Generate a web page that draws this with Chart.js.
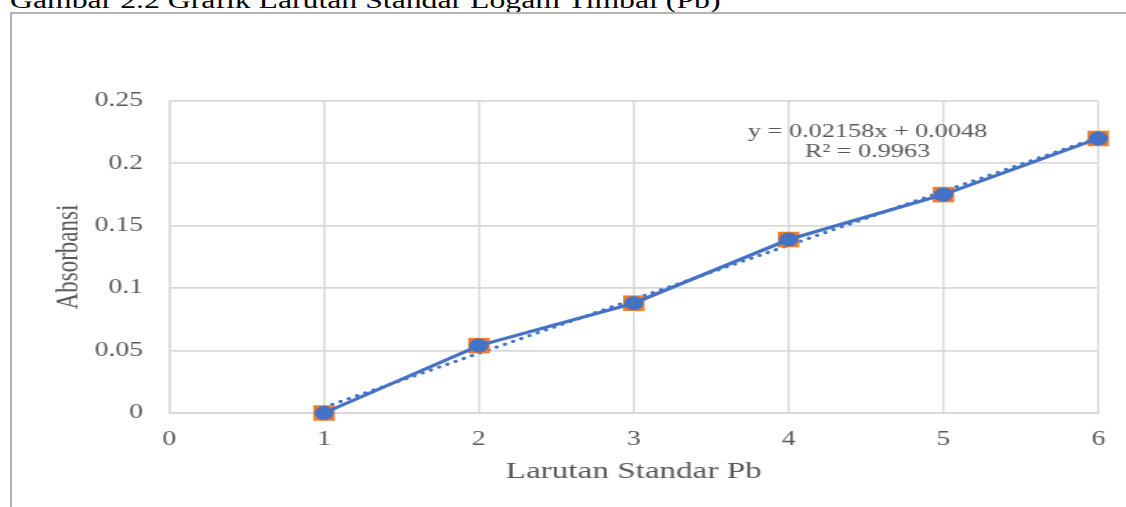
<!DOCTYPE html>
<html>
<head>
<meta charset="utf-8">
<title>Grafik Larutan Standar Pb</title>
<script src="https://cdn.jsdelivr.net/npm/chart.js@4.4.1/dist/chart.umd.min.js"></script>
<style>
    html, body { margin: 0; padding: 0; background: #fff; }
    body {
        width: 1126px; height: 507px; overflow: hidden; position: relative;
        font-family: 'Liberation Serif', 'Times New Roman', serif;
    }
    .caption {
        position: absolute; left: 10px; top: -11px;
        font-size: 23px; line-height: 23px; color: #000; white-space: nowrap;
        transform-origin: 0 0;
    }
    .frame {
        position: absolute; left: 10px; top: 12px; right: 0; bottom: 0;
        border-left: 2px solid #b4b4b4; border-top: 2px solid #b4b4b4;
    }
    #chartBox { position: absolute; left: 0; top: 0; height: 507px; transform-origin: 0 0; }
</style>
</head>
<body>
<div class="caption" id="caption">Gambar 2.2 Grafik Larutan Standar Logam Timbal (Pb)</div>
<div class="frame"></div>
<div id="chartBox"><canvas id="myChart"></canvas></div>
<script>
// data
const xValues = [1, 2, 3, 4, 5, 6];
const absorbansi = [0, 0.054, 0.088, 0.139, 0.175, 0.22];
const trendX = [1, 6];
const trendY = [0.0046, 0.2209];
const xTicks = [0, 1, 2, 3, 4, 5, 6];
const yTicks = [0, 0.05, 0.1, 0.15, 0.2, 0.25];
const yTickLabels = ['0', '0.05', '0.1', '0.15', '0.2', '0.25'];
const equationLines = ['y = 0.02158x + 0.0048', 'R\u00b2 = 0.9963'];

document.addEventListener('DOMContentLoaded', function () {
    // the source picture is stretched sideways, so draw narrow and scale up
    const STRETCH = 1.38;
    const PAGE_W = 1126, PAGE_H = 507;
    const plotLeft = 169 / STRETCH, plotRight = 1097 / STRETCH;
    const plotTop = 101, plotBottom = 413;
    const boxW = PAGE_W / STRETCH;

    const box = document.getElementById('chartBox');
    box.style.width = boxW + 'px';
    box.style.transform = `scaleX(${STRETCH})`;
    document.getElementById('caption').style.transform = `scaleX(${STRETCH})`;

    Chart.defaults.font.family = "'Liberation Serif', 'Times New Roman', serif";
    Chart.defaults.color = '#595959';

    const points = xValues.map((x, i) => ({ x: x, y: absorbansi[i] }));
    const trend = trendX.map((x, i) => ({ x: x, y: trendY[i] }));

    const equationLabel = {
        id: 'equationLabel',
        afterDatasetsDraw(chart) {
            const { ctx, scales: { x, y } } = chart;
            const cx = x.getPixelForValue(4.51);
            const cy = y.getPixelForValue(0.2267) + 2;
            ctx.save();
            ctx.font = "19px 'Liberation Serif', serif";
            ctx.fillStyle = '#595959';
            ctx.textAlign = 'center';
            ctx.textBaseline = 'middle';
            equationLines.forEach((t, i) => ctx.fillText(t, cx, cy + i * 20));
            ctx.restore();
        }
    };

    const ctx = document.getElementById('myChart').getContext('2d');
    new Chart(ctx, {
        type: 'line',
        data: {
            datasets: [
                {
                    label: 'Absorbansi',
                    data: points,
                    borderColor: '#4472C4',
                    backgroundColor: '#4472C4',
                    borderWidth: 3.2,
                    pointStyle: 'circle',
                    pointRadius: 6.5,
                    pointBorderWidth: 1,
                    order: 1,
                    clip: false,
                },
                {
                    label: 'Marker',
                    data: points,
                    showLine: false,
                    pointStyle: 'rect',
                    pointRadius: 11,
                    backgroundColor: '#ED7D31',
                    borderColor: '#ED7D31',
                    pointBorderWidth: 0,
                    order: 2,
                    clip: false,
                },
                {
                    label: 'Linear',
                    data: trend,
                    borderColor: '#4472C4',
                    borderWidth: 3.2,
                    borderDash: [0.1, 6.5],
                    borderCapStyle: 'round',
                    pointRadius: 0,
                    order: 3,
                    clip: false,
                },
            ],
        },
        options: {
            responsive: true,
            maintainAspectRatio: false,
            animation: false,
            events: [],
            layout: {
                padding: { left: 0, top: plotTop, right: boxW - plotRight, bottom: 0 },
            },
            plugins: {
                legend: { display: false },
                tooltip: { enabled: false },
            },
            scales: {
                x: {
                    type: 'linear',
                    min: 0,
                    max: 6,
                    afterBuildTicks: s => { s.ticks = xTicks.map(v => ({ value: v })); },
                    afterFit: s => {
                        s.height = PAGE_H - plotBottom;
                        s.paddingLeft = 0;
                        s.paddingRight = 0;
                    },
                    grid: { color: '#d9d9d9', lineWidth: 1.5, drawTicks: false },
                    border: { color: '#d9d9d9', width: 1.8 },
                    ticks: { padding: 15, color: '#595959', font: { size: 20 }, maxRotation: 0 },
                    title: {
                        display: true,
                        text: 'Larutan Standar Pb',
                        color: '#595959',
                        font: { size: 24 },
                        padding: { top: 0, bottom: 21 },
                    },
                },
                y: {
                    min: 0,
                    max: 0.25,
                    afterBuildTicks: s => { s.ticks = yTicks.map(v => ({ value: v })); },
                    afterFit: s => {
                        s.width = plotLeft;
                        s.paddingTop = 0;
                        s.paddingBottom = 0;
                    },
                    grid: { color: '#d9d9d9', lineWidth: 1.8, drawTicks: false },
                    border: { color: '#d9d9d9', width: 1.5 },
                    ticks: {
                        padding: 19,
                        color: '#595959',
                        font: { size: 20 },
                        callback: (v, i) => yTickLabels[i],
                    },
                    title: {
                        display: true,
                        text: 'Absorbansi',
                        color: '#595959',
                        font: { size: 23 },
                        padding: { top: 36.5, bottom: 0 },
                    },
                },
            },
        },
        plugins: [equationLabel],
    });
});
</script>
</body>
</html>
